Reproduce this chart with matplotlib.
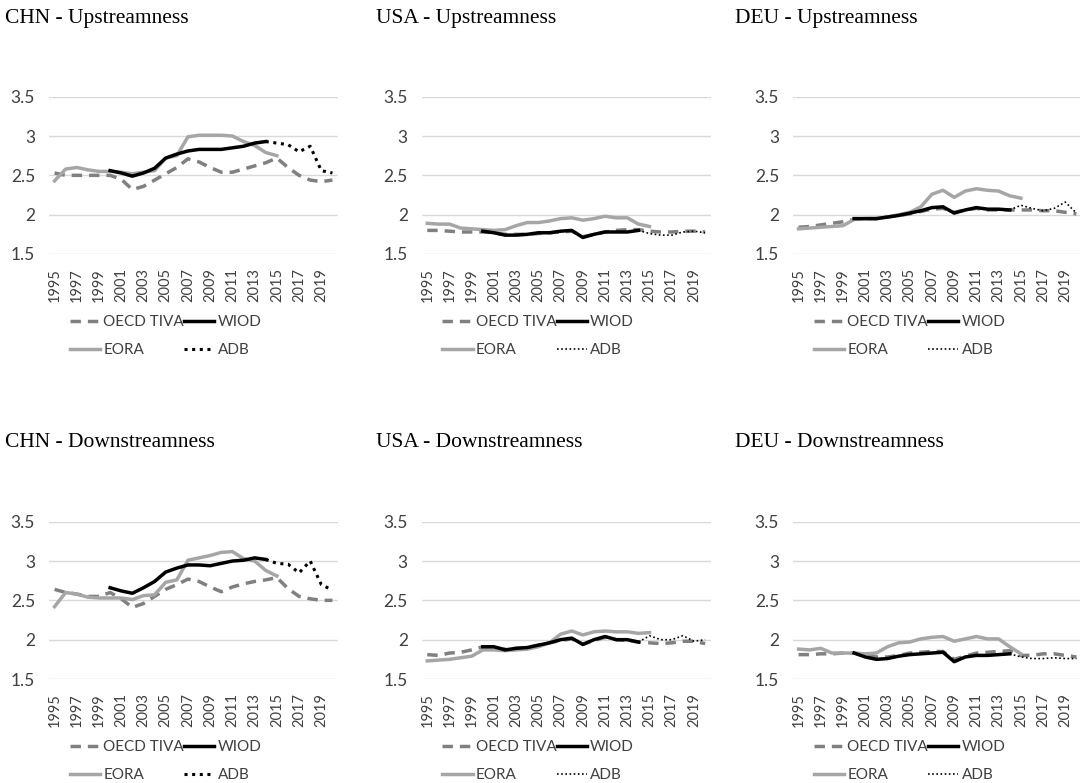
import matplotlib
matplotlib.use("Agg")
import matplotlib.pyplot as plt
from matplotlib.lines import Line2D
import numpy as np

# Años y series por país / indicador
years = np.arange(1995, 2021)
wiod_years = np.arange(2000, 2015)
eora_years = np.arange(1995, 2016)
adb_years = np.arange(2014, 2021)

# --- Upstreamness ---
chn_up_oecd = [2.53, 2.50, 2.50, 2.50, 2.50, 2.50, 2.45, 2.32, 2.36, 2.44, 2.52, 2.60, 2.71,
               2.67, 2.60, 2.54, 2.54, 2.58, 2.62, 2.66, 2.72, 2.60, 2.50, 2.44, 2.42, 2.44]
chn_up_eora = [2.43, 2.58, 2.60, 2.57, 2.55, 2.55, 2.54, 2.52, 2.54, 2.56, 2.72, 2.75, 2.99,
               3.01, 3.01, 3.01, 3.00, 2.93, 2.88, 2.79, 2.75]
chn_up_wiod = [2.56, 2.53, 2.49, 2.53, 2.59, 2.72, 2.77, 2.81, 2.83, 2.83, 2.83, 2.85, 2.87, 2.91, 2.93]
chn_up_adb = [2.93, 2.91, 2.89, 2.80, 2.87, 2.56, 2.53]

usa_up_oecd = [1.80, 1.80, 1.79, 1.78, 1.78, 1.78, 1.77, 1.75, 1.75, 1.75, 1.76, 1.77, 1.78,
               1.79, 1.72, 1.75, 1.78, 1.80, 1.81, 1.81, 1.79, 1.78, 1.78, 1.79, 1.79, 1.78]
usa_up_eora = [1.89, 1.88, 1.88, 1.83, 1.82, 1.81, 1.80, 1.81, 1.86, 1.90, 1.90, 1.92, 1.95,
               1.96, 1.93, 1.95, 1.98, 1.96, 1.96, 1.88, 1.85]
usa_up_wiod = [1.79, 1.77, 1.74, 1.74, 1.75, 1.77, 1.77, 1.79, 1.80, 1.71, 1.75, 1.78, 1.78, 1.78, 1.80]
usa_up_adb = [1.80, 1.76, 1.74, 1.74, 1.78, 1.79, 1.77]

deu_up_oecd = [1.84, 1.85, 1.87, 1.89, 1.91, 1.94, 1.95, 1.95, 1.97, 1.99, 2.01, 2.04, 2.07,
               2.08, 2.03, 2.06, 2.08, 2.06, 2.06, 2.06, 2.06, 2.06, 2.05, 2.05, 2.03, 2.01]
deu_up_eora = [1.82, 1.83, 1.84, 1.85, 1.86, 1.94, 1.95, 1.95, 1.97, 2.00, 2.03, 2.10, 2.26,
               2.31, 2.22, 2.30, 2.33, 2.31, 2.30, 2.24, 2.21]
deu_up_wiod = [1.95, 1.95, 1.95, 1.97, 1.99, 2.02, 2.05, 2.09, 2.10, 2.02, 2.06, 2.09, 2.07, 2.07, 2.06]
deu_up_adb = [2.06, 2.12, 2.08, 2.05, 2.08, 2.16, 2.02]

# --- Downstreamness ---
chn_down_oecd = [2.64, 2.60, 2.58, 2.55, 2.55, 2.60, 2.52, 2.41, 2.46, 2.55, 2.64, 2.70, 2.77,
                 2.74, 2.67, 2.61, 2.67, 2.71, 2.74, 2.76, 2.79, 2.65, 2.55, 2.52, 2.50, 2.50]
chn_down_eora = [2.42, 2.60, 2.58, 2.54, 2.53, 2.53, 2.53, 2.51, 2.56, 2.57, 2.73, 2.76, 3.01,
                 3.04, 3.07, 3.11, 3.12, 3.03, 3.00, 2.88, 2.81]
chn_down_wiod = [2.66, 2.62, 2.59, 2.66, 2.74, 2.86, 2.91, 2.95, 2.95, 2.94, 2.97, 3.00, 3.01, 3.04, 3.02]
chn_down_adb = [3.02, 2.97, 2.96, 2.85, 3.00, 2.70, 2.63]

usa_down_oecd = [1.81, 1.80, 1.83, 1.84, 1.87, 1.91, 1.90, 1.88, 1.89, 1.90, 1.93, 1.96, 1.99,
                 2.01, 1.94, 1.99, 2.03, 2.00, 1.99, 1.97, 1.96, 1.95, 1.96, 1.98, 1.98, 1.95]
usa_down_eora = [1.73, 1.74, 1.75, 1.77, 1.79, 1.87, 1.87, 1.86, 1.87, 1.88, 1.91, 1.96, 2.07,
                 2.11, 2.06, 2.10, 2.11, 2.10, 2.10, 2.08, 2.09]
usa_down_wiod = [1.91, 1.91, 1.87, 1.89, 1.90, 1.93, 1.96, 2.00, 2.02, 1.94, 2.00, 2.04, 2.00, 2.00, 1.97]
usa_down_adb = [1.97, 2.05, 2.00, 2.00, 2.05, 1.98, 2.00]

deu_down_oecd = [1.81, 1.81, 1.82, 1.82, 1.83, 1.83, 1.80, 1.78, 1.78, 1.80, 1.83, 1.84, 1.85,
                 1.85, 1.75, 1.79, 1.83, 1.84, 1.85, 1.86, 1.80, 1.80, 1.82, 1.82, 1.80, 1.78]
deu_down_eora = [1.88, 1.87, 1.89, 1.83, 1.83, 1.83, 1.82, 1.83, 1.91, 1.96, 1.97, 2.01, 2.03,
                 2.04, 1.98, 2.01, 2.04, 2.01, 2.01, 1.91, 1.82]
deu_down_wiod = [1.83, 1.78, 1.75, 1.76, 1.79, 1.81, 1.82, 1.83, 1.84, 1.72, 1.78, 1.80, 1.80, 1.81, 1.82]
deu_down_adb = [1.82, 1.78, 1.76, 1.76, 1.77, 1.76, 1.76]

titles = ["CHN - Upstreamness", "USA - Upstreamness", "DEU - Upstreamness",
          "CHN - Downstreamness", "USA - Downstreamness", "DEU - Downstreamness"]
paneles = [
    (chn_up_oecd, chn_up_wiod, chn_up_eora, chn_up_adb),
    (usa_up_oecd, usa_up_wiod, usa_up_eora, usa_up_adb),
    (deu_up_oecd, deu_up_wiod, deu_up_eora, deu_up_adb),
    (chn_down_oecd, chn_down_wiod, chn_down_eora, chn_down_adb),
    (usa_down_oecd, usa_down_wiod, usa_down_eora, usa_down_adb),
    (deu_down_oecd, deu_down_wiod, deu_down_eora, deu_down_adb),
]

GRIS_OSCURO = "#808080"
GRIS_CLARO = "#a6a6a6"
TICK_FONT = "Lato"

fig = plt.figure(figsize=(10.8, 7.83), dpi=100)

lefts = [49, 421.7, 793]
tops = [96.7, 521.7]
ancho, alto = 289, 157.3
title_x = [5, 376, 735]
title_y = [19, 443]

for i, (oecd, wiod, eora, adb) in enumerate(paneles):
    fila, col = divmod(i, 3)
    ax = fig.add_axes([lefts[col] / 1080, 1 - (tops[fila] + alto) / 783, ancho / 1080, alto / 783])

    # grosor del punteado ADB: grueso sólo en China
    adb_lw = 2.2 if col == 0 else 1.2

    ax.plot(years, oecd, color=GRIS_OSCURO, lw=2.5, dashes=(3, 2))
    ax.plot(eora_years, eora, color=GRIS_CLARO, lw=2.5)
    ax.plot(wiod_years, wiod, color="black", lw=2.5)
    ax.plot(adb_years, adb, color="black", lw=adb_lw, linestyle=(0, (1, 1.5)))

    ax.set_xlim(1994.5, 2020.5)
    ax.set_ylim(1.5, 3.5)
    ax.set_yticks([1.5, 2, 2.5, 3, 3.5])
    ax.set_yticklabels(["1.5", "2", "2.5", "3", "3.5"])
    ax.set_xticks(np.arange(1995, 2021, 2))
    ax.set_xticklabels([str(a) for a in range(1995, 2021, 2)], rotation=90)
    ax.grid(axis="y", color="#d9d9d9", lw=1)
    ax.set_axisbelow(True)
    for s in ax.spines.values():
        s.set_visible(False)
    ax.tick_params(length=0, colors="#404040")
    ax.tick_params(axis="x", pad=10, labelsize=10.5)
    ax.tick_params(axis="y", pad=10, labelsize=12.5)
    for lbl in ax.get_xticklabels() + ax.get_yticklabels():
        lbl.set_fontfamily(TICK_FONT)

    handles = [
        Line2D([], [], color=GRIS_OSCURO, lw=2.5, dashes=(3, 2)),
        Line2D([], [], color=GRIS_CLARO, lw=2.5),
        Line2D([], [], color="black", lw=2.5),
        Line2D([], [], color="black", lw=adb_lw, linestyle=(0, (1, 1.5))),
    ]
    labels = ["OECD TIVA", "EORA", "WIOD", "ADB"]
    ax.legend(handles, labels, ncol=2, frameon=False, loc="upper left",
              bbox_to_anchor=(0.05, -0.35), handlelength=2.0, handletextpad=0.2,
              columnspacing=0.0, labelspacing=0.9, borderaxespad=0,
              prop={"family": TICK_FONT, "size": 11}, labelcolor="#404040")

    fig.text(title_x[col] / 1080, 1 - title_y[fila] / 783, titles[i],
             family="Liberation Serif", fontsize=15.5, va="center", ha="left")

fig.savefig("out.png", dpi=100, facecolor="white")
